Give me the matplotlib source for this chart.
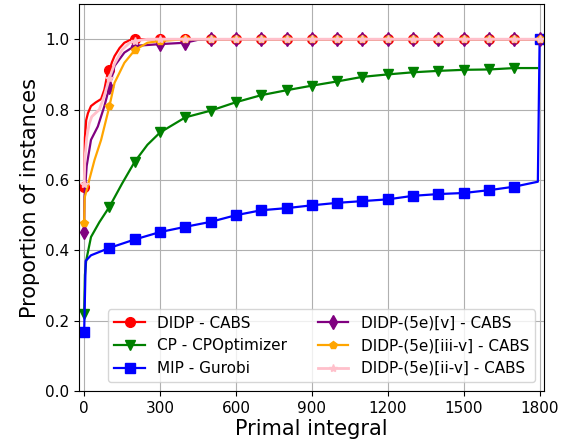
import matplotlib
matplotlib.use("Agg")
import matplotlib.pyplot as plt
import numpy as np

# ============================================================
# data
# ============================================================
flat_x = [300, 400, 500, 600, 700, 800, 900, 1000, 1100, 1200, 1300, 1400, 1500, 1600, 1700, 1800]

red_x = [0, 3, 8, 15, 27, 45, 67, 80, 93, 100, 110, 120, 140, 159, 180, 198, 200] + flat_x
red_y = [0.58, 0.72, 0.77, 0.79, 0.81, 0.82, 0.83, 0.857, 0.905, 0.912, 0.935, 0.952, 0.975, 0.99, 0.997,
         1.0, 1.0, 1.0, 1.0, 1.0, 1.0, 1.0, 1.0, 1.0, 1.0, 1.0, 1.0, 1.0, 1.0, 1.0, 1.0, 1.0, 1.0]

green_x = [0, 3, 8, 27, 60, 100, 150, 200, 250, 300, 400, 500, 600, 700, 800, 900, 1000,
           1100, 1200, 1300, 1400, 1500, 1600, 1700, 1790]
green_y = [0.219, 0.33, 0.371, 0.438, 0.48, 0.524, 0.59, 0.652, 0.70, 0.735, 0.778, 0.797, 0.821, 0.841,
           0.855, 0.868, 0.88, 0.893, 0.90, 0.906, 0.91, 0.913, 0.914, 0.918, 0.918]

blue_x = [0, 4, 6, 27, 100, 200, 300, 400, 500, 600, 700, 800, 900, 1000, 1100, 1200, 1300,
          1400, 1500, 1600, 1700, 1793, 1800]
blue_y = [0.168, 0.30, 0.37, 0.386, 0.407, 0.431, 0.452, 0.467, 0.481, 0.5, 0.514, 0.52, 0.528, 0.535,
          0.54, 0.545, 0.555, 0.56, 0.563, 0.571, 0.581, 0.595, 1.0]

purple_x = [0, 1, 10, 27, 54, 80, 100, 120, 159, 200, 300, 400, 448, 500, 600, 700, 800, 900, 1000,
            1100, 1200, 1300, 1400, 1500, 1600, 1700, 1800]
purple_y = [0.453, 0.55, 0.64, 0.714, 0.752, 0.81, 0.865, 0.924, 0.962, 0.981, 0.986, 0.99, 0.998,
            1.0, 1.0, 1.0, 1.0, 1.0, 1.0, 1.0, 1.0, 1.0, 1.0, 1.0, 1.0, 1.0, 1.0]

orange_x = [0, 2, 20, 41, 67, 100, 120, 159, 200, 250] + flat_x
orange_y = [0.478, 0.55, 0.60, 0.657, 0.714, 0.81, 0.876, 0.933, 0.969, 0.99,
            0.995, 1.0, 1.0, 1.0, 1.0, 1.0, 1.0, 1.0, 1.0, 1.0, 1.0, 1.0, 1.0, 1.0, 1.0, 1.0]

pink_x = [0, 3, 10, 20, 30, 60, 80, 100, 120, 150, 180, 200, 250] + flat_x
pink_y = [0.59, 0.66, 0.72, 0.76, 0.78, 0.80, 0.84, 0.89, 0.93, 0.97, 0.99, 0.995, 1.0,
          1.0, 1.0, 1.0, 1.0, 1.0, 1.0, 1.0, 1.0, 1.0, 1.0, 1.0, 1.0, 1.0, 1.0, 1.0, 1.0]

series = [
    ("DIDP - CABS", red_x, red_y, "red", "o", 7, 1.6),
    ("CP - CPOptimizer", green_x, green_y, "green", "v", 7, 1.6),
    ("MIP - Gurobi", blue_x, blue_y, "blue", "s", 7, 1.6),
    ("DIDP-(5e)[v] - CABS", purple_x, purple_y, "purple", "d", 7, 1.6),
    ("DIDP-(5e)[iii-v] - CABS", orange_x, orange_y, "orange", "p", 6, 1.6),
    ("DIDP-(5e)[ii-v] - CABS", pink_x, pink_y, "pink", "*", 6, 2.0),
]

x_ticks = [0, 300, 600, 900, 1200, 1500, 1800]
y_ticks = [0.0, 0.2, 0.4, 0.6, 0.8, 1.0]

# ============================================================
# chart
# ============================================================
fig, ax = plt.subplots(figsize=(5.61, 4.45), dpi=100)
fig.subplots_adjust(left=0.141, right=0.970, bottom=0.121, top=0.991)

for label, xs, ys, col, mk, ms, lw in series:
    xs = np.asarray(xs)
    mask = list(xs % 100 == 0)
    ax.plot(xs, ys, color=col, marker=mk, markersize=ms, markevery=mask, lw=lw, label=label)

ax.set_xlim(-20, 1818)
ax.set_ylim(0, 1.1)
ax.set_xticks(x_ticks)
ax.set_yticks(y_ticks)
ax.tick_params(labelsize=11)
ax.grid(True, color="#b0b0b0", lw=0.8)
ax.set_xlabel("Primal integral", fontsize=15, labelpad=2)
ax.set_ylabel("Proportion of instances", fontsize=15)
ax.legend(loc="lower right", ncol=2, fontsize=11, borderaxespad=0.6)

plt.savefig("out.png", dpi=100)
